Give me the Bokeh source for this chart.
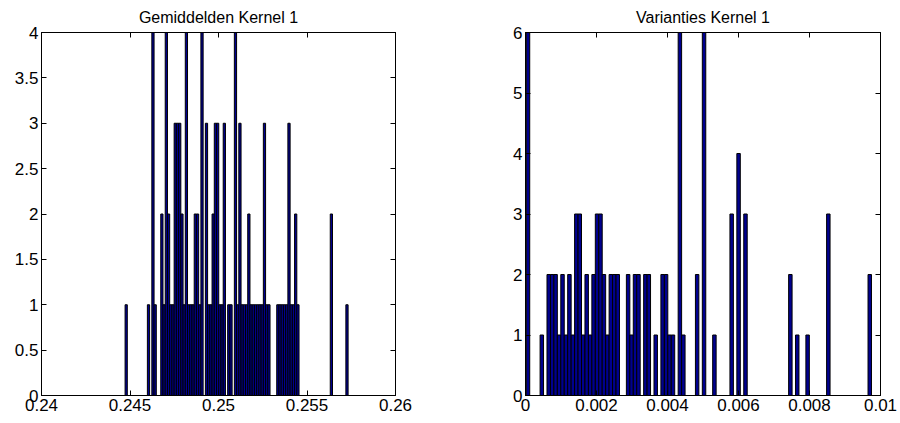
import numpy as np
from bokeh.plotting import figure
from bokeh.layouts import row
from bokeh.models import FixedTicker, LinearAxis, CustomJSTickFormatter, Range1d
from bokeh.embed import file_html
from bokeh.resources import INLINE

# ---------------- data ----------------
left_title = "Gemiddelden Kernel 1"
right_title = "Varianties Kernel 1"

# histogram (100 bins) of the kernel means: data range and counts per bin
left_bin_range = (0.244722, 0.257322)
left_counts = [
    1, 0, 0, 0, 0, 0, 0, 0, 0, 0,
    1, 0, 4, 1, 0, 0, 2, 1, 4, 2,
    1, 1, 3, 3, 3, 2, 1, 4, 1, 1,
    1, 2, 2, 1, 4, 0, 3, 1, 1, 2,
    3, 3, 1, 1, 3, 0, 1, 1, 0, 4,
    1, 3, 1, 1, 1, 2, 1, 1, 1, 1,
    1, 1, 3, 1, 1, 0, 0, 0, 1, 1,
    1, 1, 1, 3, 1, 1, 2, 1, 0, 0,
    0, 0, 0, 0, 0, 0, 0, 0, 0, 0,
    0, 0, 2, 0, 0, 0, 0, 0, 0, 1,
]

# histogram (100 bins) of the kernel variances
right_bin_range = (0.0000218, 0.0097458)
right_counts = [
    6, 0, 0, 0, 1, 0, 2, 2, 2, 1,
    2, 1, 2, 1, 3, 3, 1, 2, 1, 2,
    3, 3, 2, 1, 2, 2, 2, 0, 0, 2,
    1, 2, 2, 0, 2, 2, 0, 1, 0, 2,
    2, 1, 1, 0, 6, 1, 0, 0, 0, 2,
    0, 6, 0, 0, 1, 0, 0, 0, 0, 3,
    0, 4, 0, 3, 0, 0, 0, 0, 0, 0,
    0, 0, 0, 0, 0, 0, 2, 0, 1, 0,
    0, 1, 0, 0, 0, 0, 0, 3, 0, 0,
    0, 0, 0, 0, 0, 0, 0, 0, 0, 2,
]

left_xticks = [0.24, 0.245, 0.25, 0.255, 0.26]
left_xtick_labels = ["0.24", "0.245", "0.25", "0.255", "0.26"]
left_yticks = [0, 0.5, 1, 1.5, 2, 2.5, 3, 3.5, 4]
left_ytick_labels = ["0", "0.5", "1", "1.5", "2", "2.5", "3", "3.5", "4"]

right_xticks = [0, 0.002, 0.004, 0.006, 0.008, 0.01]
right_xtick_labels = ["0", "0.002", "0.004", "0.006", "0.008", "0.01"]
right_yticks = [0, 1, 2, 3, 4, 5, 6]
right_ytick_labels = ["0", "1", "2", "3", "4", "5", "6"]

FONT = "Liberation Sans"
BAR_FILL = "#00008F"


def style_axis(ax, ticks, labels=None):
    ax.ticker = FixedTicker(ticks=ticks)
    ax.major_tick_in = 5
    ax.major_tick_out = 0
    ax.minor_tick_in = 0
    ax.minor_tick_out = 0
    ax.axis_line_color = "black"
    ax.major_tick_line_color = "black"
    ax.major_label_text_font = FONT
    ax.major_label_text_font_size = "17px"
    ax.major_label_text_color = "black"
    if labels is not None:
        ax.major_label_overrides = {t: l for t, l in zip(ticks, labels)}
        ax.major_label_standoff = 3
    else:
        ax.formatter = CustomJSTickFormatter(code="return ''")
        ax.major_label_standoff = 0


def hist_fig(title, counts, rng, xr, yr, xticks, xlabels, yticks, ylabels,
             border_left, frame_w, border_right):
    p = figure(
        title=title,
        frame_width=frame_w, frame_height=363,
        min_border_left=border_left, min_border_right=border_right,
        min_border_top=32, min_border_bottom=28,
        x_range=Range1d(*xr), y_range=Range1d(*yr),
        output_backend="svg", toolbar_location=None,
        x_axis_location=None, y_axis_location=None,
    )
    n = len(counts)
    w = (rng[1] - rng[0]) / n
    centers = rng[0] + w * (np.arange(n) + 0.5)
    c = np.array(counts)
    mask = c > 0
    p.vbar(x=centers[mask], top=c[mask], bottom=0, width=w,
           fill_color=BAR_FILL, line_color="black", line_width=1)

    bottom = LinearAxis()
    style_axis(bottom, xticks, xlabels)
    p.add_layout(bottom, "below")
    left = LinearAxis()
    style_axis(left, yticks, ylabels)
    p.add_layout(left, "left")
    top = LinearAxis()
    style_axis(top, xticks)
    p.add_layout(top, "above")
    right = LinearAxis()
    style_axis(right, yticks)
    p.add_layout(right, "right")

    p.xgrid.visible = False
    p.ygrid.visible = False
    p.outline_line_color = "black"
    p.background_fill_color = "white"
    p.border_fill_color = "white"
    p.title.align = "center"
    p.title.text_font = FONT
    p.title.text_font_size = "16px"
    p.title.text_font_style = "normal"
    p.title.text_color = "black"
    p.title.offset = 0
    p.title.standoff = 13
    return p


p1 = hist_fig(left_title, left_counts, left_bin_range, (0.24, 0.26), (0, 4),
              left_xticks, left_xtick_labels, left_yticks, left_ytick_labels,
              41, 354, 55)
p2 = hist_fig(right_title, right_counts, right_bin_range, (0, 0.01), (0, 6),
              right_xticks, right_xtick_labels, right_yticks, right_ytick_labels,
              75, 355, 20)

layout = row(p1, p2)
open("out.html", "w").write(file_html(layout, INLINE))
